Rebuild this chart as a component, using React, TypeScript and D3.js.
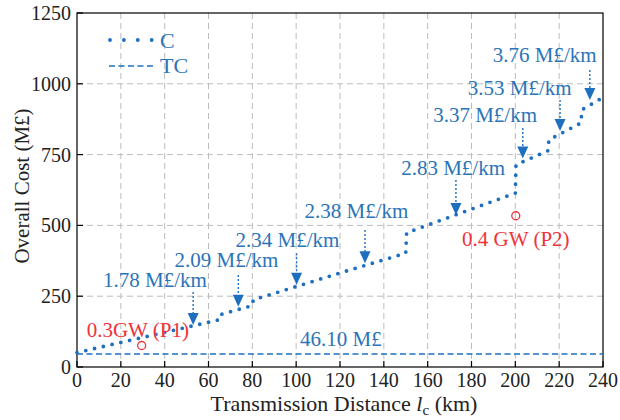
import React from "react";
import * as d3 from "d3";

// ---- data ----
const distanceKm = [0, 65, 65.4, 80, 80.4, 120, 150, 150.4, 200, 200.3, 215, 215.3, 230, 230.3, 240];
const costC = [51, 167, 185, 217, 237, 332, 402, 474, 614, 714, 764, 802, 862, 908, 952];
const tcCost = 46.1;

const xTicks = [0, 20, 40, 60, 80, 100, 120, 140, 160, 180, 200, 220, 240];
const yTicks = [0, 250, 500, 750, 1000, 1250];

// slope annotations
const slopeLabels = ["1.78 M£/km", "2.09 M£/km", "2.34 M£/km", "2.38 M£/km", "2.83 M£/km", "3.37 M£/km", "3.53 M£/km", "3.76 M£/km"];
const labelCenterKm = [35.6, 68.2, 96.0, 127.5, 171.6, 186.2, 202.0, 213.4];
const labelBaseCost = [283, 354, 425, 526, 678, 866, 960, 1076];
const arrowKm = [53.0, 73.6, 100.2, 131.4, 172.9, 203.4, 220.4, 234.0];
const arrowTopCost = [265, 325, 402, 484, 660, 844, 943, 1049];
const arrowTipCost = [148, 213, 290, 366, 537, 736, 833, 943];

// power points
const pointLabels = ["0.3GW (P1)", "0.4 GW (P2)"];
const pointKm = [29.5, 200.2];
const pointCost = [76, 534];
const pointLabelKm = [4.4, 175.7];
const pointLabelCost = [107, 427];

const tcLabel = "46.10 M£";
const tcLabelKm = [101.8];
const tcLabelCost = [74];

const W = 620, H = 420;
const M = { left: 77, right: 603, top: 13, bottom: 367 };
const BLUE = "#1f6fbf";
const TEXTBLUE = "#2b74b8";
const RED = "#f0323a";
const FONT = "'Liberation Serif', 'Times New Roman', serif";

export default function App() {
  const x = d3.scaleLinear().domain([0, 240]).range([M.left, M.right]);
  const y = d3.scaleLinear().domain([0, 1250]).range([M.bottom, M.top]);
  const line = d3.line<number>().x((_, i) => x(distanceKm[i])).y((d) => y(d));
  const pathC = line(costC) || "";

  return (
    <svg width={W} height={H} style={{ position: "absolute", left: 0, top: 0, background: "#fff" }} fontFamily={FONT}>
      {/* grid */}
      {xTicks.slice(1, -1).map((t) => (
        <line key={"gx" + t} x1={x(t)} x2={x(t)} y1={M.top} y2={M.bottom} stroke="#bcbcbc" strokeWidth={1} strokeDasharray="6 4" />
      ))}
      {yTicks.slice(1, -1).map((t) => (
        <line key={"gy" + t} x1={M.left} x2={M.right} y1={y(t)} y2={y(t)} stroke="#bcbcbc" strokeWidth={1} strokeDasharray="6 4" />
      ))}
      {/* axes box */}
      <rect x={M.left} y={M.top} width={M.right - M.left} height={M.bottom - M.top} fill="none" stroke="#000" strokeWidth={1.2} />
      {xTicks.map((t) => (
        <g key={"xt" + t}>
          <line x1={x(t)} x2={x(t)} y1={M.bottom} y2={M.bottom - 6} stroke="#000" strokeWidth={1.2} />
          <text x={x(t)} y={387} textAnchor="middle" fontSize={20} fill="#222">{t}</text>
        </g>
      ))}
      {yTicks.map((t) => (
        <g key={"yt" + t}>
          <line x1={M.left} x2={M.left + 6} y1={y(t)} y2={y(t)} stroke="#000" strokeWidth={1.2} />
          <text x={71} y={y(t) + 7} textAnchor="end" fontSize={20} fill="#222">{t}</text>
        </g>
      ))}
      {/* axis titles */}
      <text x={344} y={411} textAnchor="middle" fontSize={22} fill="#222">
        Transmission Distance <tspan fontStyle="italic">l</tspan>
        <tspan dy={4} fontSize={15}>c</tspan>
        <tspan dy={-4}> (km)</tspan>
      </text>
      <text transform={`translate(29,${(M.top + M.bottom) / 2 - 4}) rotate(-90)`} textAnchor="middle" fontSize={21} fill="#222">
        Overall Cost (M£)
      </text>

      {/* TC line */}
      <line x1={x(0)} x2={x(240)} y1={y(tcCost)} y2={y(tcCost)} stroke={BLUE} strokeWidth={1.5} strokeDasharray="6 3.5" />
      <text x={x(tcLabelKm[0])} y={y(tcLabelCost[0])} fontSize={21} fill={TEXTBLUE}>{tcLabel}</text>

      {/* C curve */}
      <path d={pathC} fill="none" stroke={BLUE} strokeWidth={3.8} strokeLinecap="round" strokeDasharray="0 9" />

      {/* slope annotations */}
      {slopeLabels.map((s, i) => {
        const ax = x(arrowKm[i]);
        const top = y(arrowTopCost[i]);
        const tip = y(arrowTipCost[i]);
        return (
          <g key={"a" + i}>
            <text x={x(labelCenterKm[i])} y={y(labelBaseCost[i])} textAnchor="middle" fontSize={21} fill={TEXTBLUE}>{s}</text>
            <line x1={ax} x2={ax} y1={top} y2={tip - 10} stroke={BLUE} strokeWidth={1.4} strokeDasharray="2 2" />
            <path d={`M${ax - 5.5},${tip - 12} L${ax + 5.5},${tip - 12} L${ax},${tip} Z`} fill={BLUE} />
          </g>
        );
      })}

      {/* power points */}
      {pointLabels.map((p, i) => (
        <g key={"p" + i}>
          <circle cx={x(pointKm[i])} cy={y(pointCost[i])} r={4} fill="none" stroke={RED} strokeWidth={1.3} />
          <text x={x(pointLabelKm[i])} y={y(pointLabelCost[i])} fontSize={21} fill={RED}>{p}</text>
        </g>
      ))}

      {/* legend */}
      <line x1={110} x2={152} y1={40} y2={40} stroke={BLUE} strokeWidth={3.8} strokeLinecap="round" strokeDasharray="0 13.9" />
      <text x={160} y={48} fontSize={22} fill={TEXTBLUE}>C</text>
      <line x1={109} x2={153} y1={66} y2={66} stroke={BLUE} strokeWidth={1.5} strokeDasharray="6 3.5" />
      <text x={160} y={73} fontSize={22} fill={TEXTBLUE}>TC</text>
    </svg>
  );
}
